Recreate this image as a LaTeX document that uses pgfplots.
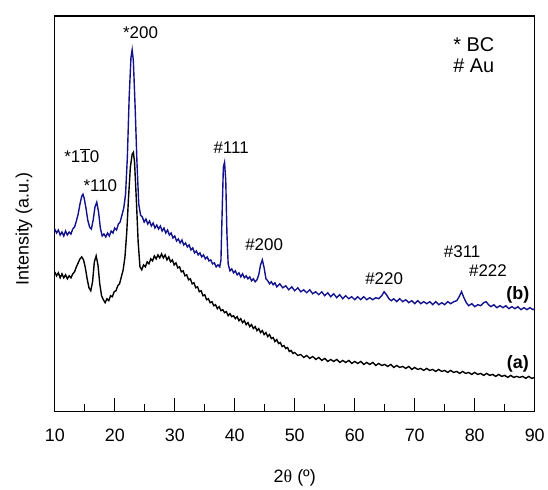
\documentclass[border=0pt]{standalone}
\usepackage{fontspec}
\setmainfont{Liberation Sans}
\newfontfamily\grk{Liberation Serif}
\usepackage{pgfplots}
\pgfplotsset{compat=1.18}
\definecolor{navy}{RGB}{18,18,140}

% pattern (b), BC + Au
\pgfplotstableread{
x y
10.0 183
10.3 179
10.6 182
10.9 177
11.2 180
11.5 176
11.8 181
12.1 177
12.4 180
12.7 178
13.0 183
13.3 185
13.6 191
13.9 198
14.2 208
14.5 216
14.7 218
14.9 214
15.2 204
15.5 192
15.8 185
16.1 183
16.4 192
16.7 205
17.0 210
17.3 200
17.6 184
17.9 176
18.2 178
18.5 175
18.8 179
19.1 176
19.4 181
19.7 179
20.0 184
20.3 182
20.6 188
20.9 190
21.2 197
21.5 204
21.8 218
22.1 255
22.4 315
22.7 355
22.9 363
23.1 352
23.4 305
23.7 250
24.0 208
24.3 197
24.6 195
24.9 190
25.2 193
25.5 188
25.8 191
26.1 186
26.4 189
26.7 184
27.0 187
27.3 183
27.6 186
27.9 181
28.2 184
28.5 179
28.8 182
29.1 177
29.4 179
29.7 174
30.0 176
30.3 171
30.6 173
30.9 169
31.2 172
31.5 167
31.8 169
32.1 165
32.4 167
32.7 162
33.0 164
33.3 159
33.6 161
33.9 157
34.2 159
34.5 155
34.8 157
35.1 153
35.4 155
35.7 151
36.0 152
36.3 148
36.6 149
36.9 145
37.2 147
37.5 145
37.7 152
37.9 200
38.1 245
38.3 250
38.5 232
38.7 178
38.9 148
39.2 141
39.5 143
39.8 139
40.1 141
40.4 137
40.7 139
41.0 135
41.3 138
41.6 134
41.9 136
42.2 133
42.5 135
42.8 131
43.1 133
43.4 130
43.7 132
44.0 137
44.3 147
44.6 152
44.9 144
45.2 133
45.5 131
45.8 128
46.1 130
46.4 127
46.7 129
47.0 125
47.5 128
48.0 124
48.5 126
49.0 122
49.5 125
50.0 121
50.5 124
51.0 120
51.5 122
52.0 119
52.5 122
53.0 118
53.5 120
54.0 117
54.5 120
55.0 116
55.5 119
56.0 115
56.5 118
57.0 114
57.5 117
58.0 113
58.5 116
59.0 113
59.5 115
60.0 112
60.5 115
61.0 112
61.5 115
62.0 112
62.5 114
63.0 112
63.5 114
64.0 113
64.5 116
64.9 120
65.3 117
65.7 113
66.1 111
66.5 113
67.0 110
67.5 113
68.0 110
68.5 112
69.0 109
69.5 111
70.0 108
70.5 111
71.0 108
71.5 110
72.0 108
72.5 110
73.0 107
73.5 110
74.0 107
74.5 109
75.0 107
75.5 110
76.0 108
76.5 110
77.0 111
77.4 115
77.8 120
78.2 114
78.6 109
79.0 106
79.5 108
80.0 105
80.5 107
81.0 106
81.5 109
81.9 110
82.3 107
82.7 105
83.2 107
83.7 104
84.2 106
84.7 104
85.2 106
85.7 103
86.2 105
86.7 103
87.2 105
87.7 102
88.2 104
88.7 102
89.2 104
89.7 102
90.0 103
}\patb

% pattern (a), BC
\pgfplotstableread{
x y
10.0 140
10.3 136
10.6 139
10.9 134
11.2 138
11.5 134
11.8 137
12.1 133
12.4 136
12.7 134
13.0 138
13.3 140
13.6 145
13.9 149
14.2 153
14.5 155
14.8 152
15.1 144
15.4 133
15.7 124
16.0 121
16.3 130
16.6 150
16.9 156
17.2 147
17.5 128
17.8 116
18.1 112
18.4 109
18.7 113
19.0 111
19.3 116
19.6 115
19.9 120
20.2 121
20.5 126
20.8 128
21.1 135
21.4 142
21.7 155
22.0 180
22.3 215
22.6 245
22.9 258
23.1 260
23.3 250
23.6 212
23.9 170
24.2 145
24.5 142
24.8 147
25.1 145
25.4 150
25.7 148
26.0 153
26.3 151
26.6 156
26.9 153
27.2 157
27.5 154
27.8 158
28.1 154
28.4 157
28.7 152
29.0 155
29.3 150
29.6 152
29.9 147
30.2 149
30.5 144
30.8 145
31.1 140
31.4 141
31.7 136
32.0 137
32.3 132
32.6 133
32.9 128
33.2 129
33.5 124
33.8 125
34.1 120
34.4 121
34.7 116
35.0 117
35.3 112
35.6 113
35.9 109
36.2 110
36.5 106
36.8 107
37.1 103
37.4 105
37.7 101
38.0 102
38.3 99
38.6 100
38.9 96
39.2 98
39.5 95
39.8 96
40.1 93
40.4 95
40.7 91
41.0 93
41.3 89
41.6 91
41.9 87
42.2 89
42.5 85
42.8 87
43.1 83
43.4 85
43.7 81
44.0 83
44.3 79
44.6 81
44.9 77
45.2 79
45.5 75
45.8 77
46.1 73
46.4 74
46.7 70
47.0 72
47.3 68
47.6 69
47.9 65
48.2 66
48.5 63
48.8 64
49.1 60
49.4 61
49.7 58
50.0 59
50.5 56
51.0 57
51.5 54
52.0 56
52.5 53
53.0 55
53.5 52
54.0 54
54.5 51
55.0 53
55.5 50
56.0 52
56.5 50
57.0 52
57.5 49
58.0 51
58.5 49
59.0 51
59.5 48
60.0 50
60.5 48
61.0 50
61.5 47
62.0 49
62.5 47
63.0 49
63.5 46
64.0 48
64.5 46
65.0 47
65.5 45
66.0 47
66.5 44
67.0 46
67.5 44
68.0 45
68.5 43
69.0 45
69.5 42
70.0 44
70.5 42
71.0 43
71.5 41
72.0 43
72.5 41
73.0 42
73.5 40
74.0 42
74.5 40
75.0 41
75.5 39
76.0 41
76.5 39
77.0 40
77.5 38
78.0 40
78.5 38
79.0 39
79.5 37
80.0 39
80.5 37
81.0 38
81.5 36
82.0 38
82.5 36
83.0 37
83.5 35
84.0 37
84.5 35
85.0 36
85.5 34
86.0 36
86.5 34
87.0 35
87.5 34
88.0 35
88.5 33
89.0 35
89.5 33
90.0 34
}\pata

\begin{document}
\begin{tikzpicture}
\begin{axis}[
  scale only axis, width=482pt, height=397pt,
  xmin=10, xmax=90, ymin=0, ymax=397,
  xtick={10,20,...,90}, minor x tick num=1,
  ytick=\empty, xtick pos=left, tick align=inside,
  major tick length=13pt, minor tick length=7pt,
  axis line style={line width=1.4pt},
  every tick/.style={black, line width=1.4pt},
  /pgf/number format/assume math mode=true,
  tick label style={font=\fontsize{18}{20}\selectfont},
  xticklabel style={yshift=-14pt},
  label style={font=\fontsize{18}{20}\selectfont},
  xlabel={2{\grk θ} (º)},
  ylabel={Intensity (a.u.)},
  xlabel style={yshift=-21pt},
  ylabel style={at={(axis description cs:-0.064,0.461)}, anchor=center},
  clip=false,
]
  \addplot[black, line width=1.4pt] table {\pata};
  \addplot[navy, line width=1.4pt] table {\patb};

  \begin{scope}[every node/.style={font=\fontsize{17}{20}\selectfont, inner sep=0pt}]
    \node at (axis cs:24.3,380) {*200};
    \node at (axis cs:14.5,257) {*1$\overline{\mbox{1}}$0};
    \node at (axis cs:17.6,227) {*110};
    \node at (axis cs:39.4,265) {\#111};
    \node at (axis cs:44.9,167) {\#200};
    \node at (axis cs:64.9,133) {\#220};
    \node at (axis cs:77.9,160) {\#311};
    \node at (axis cs:82.2,141) {\#222};
    \node[font=\fontsize{18}{20}\selectfont\bfseries] at (axis cs:87.2,117) {(b)};
    \node[font=\fontsize{18}{20}\selectfont\bfseries] at (axis cs:87.2,48) {(a)};
    \node[font=\fontsize{20}{22}\selectfont, anchor=west] at (axis cs:76.4,368) {* BC};
    \node[font=\fontsize{20}{22}\selectfont, anchor=west] at (axis cs:76.4,347) {\# Au};
  \end{scope}
\end{axis}
\path (current axis.south west) ++(-55pt,-73pt) (current axis.north east) ++(11pt,16pt);
\end{tikzpicture}
\end{document}
